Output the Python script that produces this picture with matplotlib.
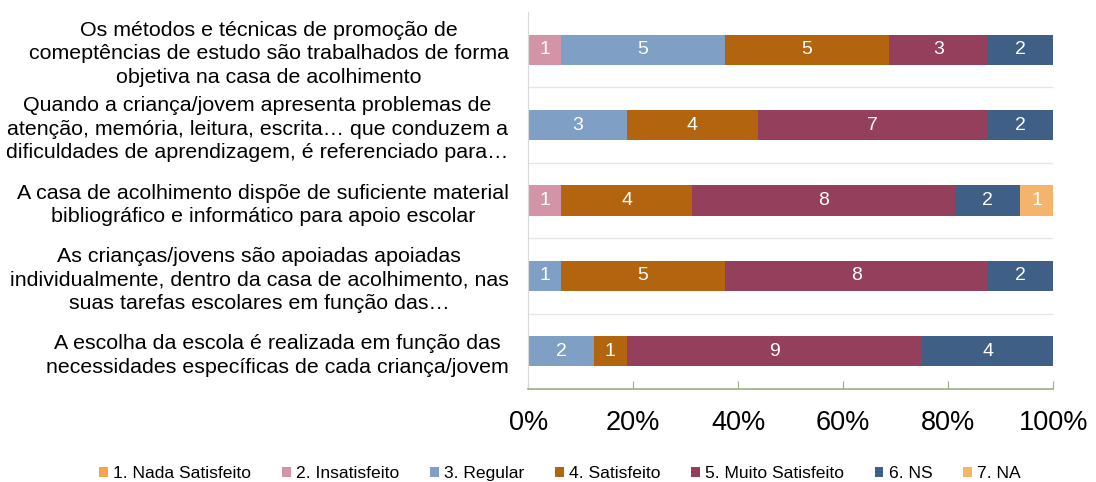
import matplotlib.pyplot as plt
import numpy as np

plt.rcParams['font.family'] = ['Liberation Sans', 'DejaVu Sans']

# categories, top to bottom
categories = [
    "Os métodos e técnicas de promoção de\ncomeptências de estudo são trabalhados de forma\nobjetiva na casa de acolhimento",
    "Quando a criança/jovem apresenta problemas de\natenção, memória, leitura, escrita… que conduzem a\ndificuldades de aprendizagem, é referenciado para…",
    "A casa de acolhimento dispõe de suficiente material\nbibliográfico e informático para apoio escolar",
    "As crianças/jovens são apoiadas apoiadas\nindividualmente, dentro da casa de acolhimento, nas\nsuas tarefas escolares em função das…",
    "A escolha da escola é realizada em função das\nnecessidades específicas de cada criança/jovem",
]
series = ["1. Nada Satisfeito", "2. Insatisfeito", "3. Regular", "4. Satisfeito",
          "5. Muito Satisfeito", "6. NS", "7. NA"]
nada = [0, 0, 0, 0, 0]
insatisfeito = [1, 0, 1, 0, 0]
regular = [5, 3, 0, 1, 2]
satisfeito = [5, 4, 4, 5, 1]
muito = [3, 7, 8, 8, 9]
ns = [2, 2, 2, 2, 4]
na = [0, 0, 1, 0, 0]
colors = ["#F4A44C", "#D494A8", "#7F9FC4", "#B2650E", "#943F5C", "#3F5F87", "#F5B46B"]

values = np.array([nada, insatisfeito, regular, satisfeito, muito, ns, na], dtype=float)
totals = values.sum(axis=0)
pct = values / totals * 100

fig = plt.figure(figsize=(10.96, 4.82), dpi=100)
ax = fig.add_axes([0.482, 0.193, 0.479, 0.782])

y = np.arange(len(categories))[::-1]
left = np.zeros(len(categories))
for i, name in enumerate(series):
    ax.barh(y, pct[i], left=left, height=0.4, color=colors[i], label=name)
    for j in range(len(categories)):
        if values[i, j] > 0:
            ax.text(left[j] + pct[i, j] / 2, y[j], "%d" % values[i, j],
                    ha='center', va='center', color='white', fontsize=14)
    left += pct[i]

ax.set_xlim(0, 100)
ax.set_ylim(-0.5, len(categories) - 0.5)
ax.set_yticks(y)
ax.set_yticklabels(categories, fontsize=15.4, multialignment='center', linespacing=1.3)
ax.tick_params(axis='y', length=0, pad=14)
ax.set_xticks(np.arange(0, 101, 20))
ax.set_xticklabels(["%d%%" % v for v in range(0, 101, 20)], fontsize=19.5)
ax.tick_params(axis='x', direction='in', length=6, color='#9BB07F', pad=15)

# horizontal separators between categories
for b in np.arange(0.5, len(categories) - 0.5, 1):
    ax.axhline(b, color='#E6E6E6', lw=1, zorder=0)

for s in ['top', 'right']:
    ax.spines[s].set_visible(False)
ax.spines['left'].set_color('#D9D9D9')
ax.spines['bottom'].set_color('#9BB07F')
ax.spines['bottom'].set_linewidth(1.2)

ax.legend(loc='lower center', bbox_to_anchor=(0.511, -0.012), bbox_transform=fig.transFigure,
          ncol=7, frameon=False, fontsize=12.6, handlelength=0.5, handleheight=0.5,
          handletextpad=0.3, columnspacing=1.75, borderaxespad=0.0)

fig.savefig("out.png", dpi=100)
